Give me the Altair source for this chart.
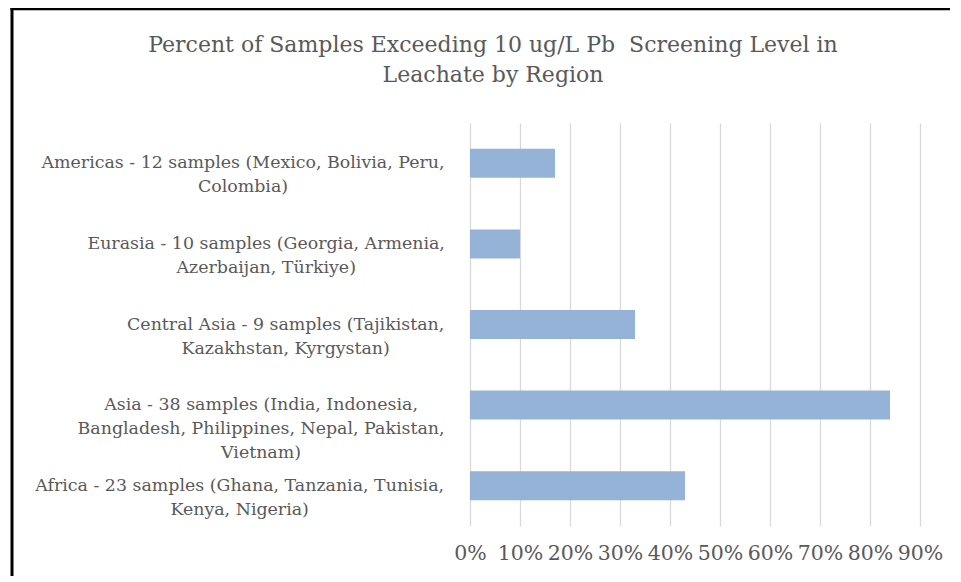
import struct, glob
import altair as alt
import pandas as pd

# ---------------- data ----------------
regions = ["Americas", "Eurasia", "Central Asia", "Asia", "Africa"]
label_lines = [
    ["Americas - 12 samples (Mexico, Bolivia, Peru,", "Colombia)"],
    ["Eurasia - 10 samples (Georgia, Armenia,", "Azerbaijan, Türkiye)"],
    ["Central Asia - 9 samples (Tajikistan,", "Kazakhstan, Kyrgystan)"],
    ["Asia - 38 samples (India, Indonesia,", "Bangladesh, Philippines, Nepal, Pakistan,", "Vietnam)"],
    ["Africa - 23 samples (Ghana, Tanzania, Tunisia,", "Kenya, Nigeria)"],
]
pct_exceeding = [0.17, 0.10, 0.33, 0.84, 0.43]
tick_values = [0.0, 0.1, 0.2, 0.3, 0.4, 0.5, 0.6, 0.7, 0.8, 0.9]
title_lines = ["Percent of Samples Exceeding 10 ug/L Pb \u00a0Screening Level in", "Leachate by Region"]

FONT = "DejaVu Serif"
LABEL_SIZE = 17.4
GREY = "#595959"
X_MAX = 0.9


# --------- text width measurement (for Excel-like centred wrapped labels) ---------
def load_widths():
    paths = glob.glob("/usr/share/fonts/**/DejaVuSerif.ttf", recursive=True)
    if not paths:
        return None
    data = open(paths[0], "rb").read()
    n = struct.unpack(">H", data[4:6])[0]
    tabs = {}
    for i in range(n):
        tag, cs, off, ln = struct.unpack(">4sIII", data[12 + 16 * i:28 + 16 * i])
        tabs[tag.decode("latin1")] = off
    upem = struct.unpack(">H", data[tabs["head"] + 18:tabs["head"] + 20])[0]
    nhm = struct.unpack(">H", data[tabs["hhea"] + 34:tabs["hhea"] + 36])[0]
    hm = tabs["hmtx"]
    adv = [struct.unpack(">H", data[hm + 4 * i:hm + 4 * i + 2])[0] for i in range(nhm)]
    cm = tabs["cmap"]
    nsub = struct.unpack(">H", data[cm + 2:cm + 4])[0]
    sub = None
    for i in range(nsub):
        pid, eid, off = struct.unpack(">HHI", data[cm + 4 + 8 * i:cm + 12 + 8 * i])
        if pid == 3 and eid == 1:
            sub = cm + off
    if sub is None:
        return None
    seg2 = struct.unpack(">H", data[sub + 6:sub + 8])[0]
    seg = seg2 // 2
    ends = struct.unpack(">%dH" % seg, data[sub + 14:sub + 14 + seg2])
    starts = struct.unpack(">%dH" % seg, data[sub + 16 + seg2:sub + 16 + 2 * seg2])
    deltas = struct.unpack(">%dh" % seg, data[sub + 16 + 2 * seg2:sub + 16 + 3 * seg2])
    ro_pos = sub + 16 + 3 * seg2
    ros = struct.unpack(">%dH" % seg, data[ro_pos:ro_pos + seg2])

    def glyph(c):
        for i in range(seg):
            if starts[i] <= c <= ends[i]:
                if ros[i] == 0:
                    return (c + deltas[i]) & 0xFFFF
                addr = ro_pos + 2 * i + ros[i] + 2 * (c - starts[i])
                g = struct.unpack(">H", data[addr:addr + 2])[0]
                return (g + deltas[i]) & 0xFFFF if g else 0
        return 0

    def width(s, size):
        tot = 0
        for ch in s:
            g = glyph(ord(ch))
            tot += adv[min(g, nhm - 1)]
        return tot / upem * size

    return width


try:
    _w = load_widths()
except Exception:
    _w = None
if _w is None:
    _w = lambda s, size: len(s) * 0.55 * size

W, H = 450, 403
GAP = 25
# centre of each wrapped label block (in pixels left of the axis), expressed in x-scale units
centers_px = [-(GAP + max(_w(l, LABEL_SIZE) for l in lines) / 2) for lines in label_lines]
centers = [c * X_MAX / W for c in centers_px]

df = pd.DataFrame({"region": regions, "pct": pct_exceeding, "lines": label_lines, "cx": centers})
title_df = pd.DataFrame({"t": [title_lines]})

xscale = alt.Scale(domain=[0, X_MAX], nice=False, zero=True, clamp=False)

bars = alt.Chart(df).mark_bar(color="#95B3D7").encode(
    x=alt.X(
        "pct:Q",
        scale=xscale,
        axis=alt.Axis(
            values=tick_values, format=".0%", title=None, domain=False, ticks=False,
            labelFont=FONT, labelFontSize=20.5, labelColor=GREY, labelPadding=17,
            grid=True, gridColor="#D9D9D9", gridWidth=1.3, labelFlush=False,
        ),
    ),
    y=alt.Y("region:N", sort=regions,
            scale=alt.Scale(paddingInner=0.64, paddingOuter=0.32), axis=None),
)

labels = alt.Chart(df).mark_text(
    font=FONT, fontSize=LABEL_SIZE, color=GREY, align="center", baseline="middle", lineHeight=24
).encode(
    x=alt.X("cx:Q", scale=xscale),
    y=alt.Y("region:N", sort=regions, axis=None),
    text="lines",
)

title = alt.Chart(title_df).mark_text(
    font=FONT, fontSize=22, color=GREY, align="center", baseline="middle", lineHeight=30
).encode(x=alt.value(23), y=alt.value(-78), text="t")

frame_left = alt.Chart(title_df).mark_rule(color="black", strokeWidth=3).encode(
    x=alt.value(-458), y=alt.value(-115), y2=alt.value(H + 60)
)
frame_top = alt.Chart(title_df).mark_rule(color="black", strokeWidth=2.5).encode(
    x=alt.value(-459.5), x2=alt.value(W + 80), y=alt.value(-114)
)

chart = (
    alt.layer(bars, labels, title, frame_left, frame_top)
    .properties(
        width=W, height=H,
        background="white",
        autosize=alt.AutoSizeParams(type="none"),
        padding={"left": 462, "top": 115, "right": 30, "bottom": 50},
    )
    .configure_view(stroke="transparent", strokeWidth=0)
    .configure_axis(domain=False)
)

chart.save("out.html", embed_options={"renderer": "svg", "actions": False})
